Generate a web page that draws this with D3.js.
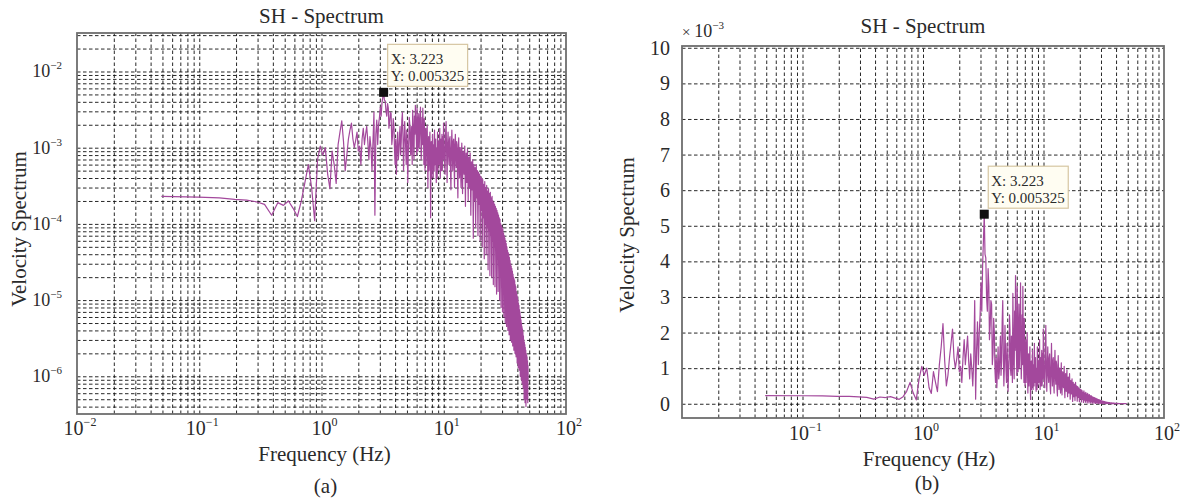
<!DOCTYPE html>
<html><head><meta charset="utf-8">
<script src="https://cdn.jsdelivr.net/npm/d3@7"></script>
<style>
body{margin:0;background:#fff}
svg{display:block}
text{font-family:"Liberation Serif","Times New Roman",serif;fill:#2a2a2a}
</style>
</head><body>
<svg id="c" width="1186" height="499"></svg>
<script>
// ---------- DATA (values in units of 1e-3) ----------
const lowFreq = [0.049,0.098,0.146,0.195,0.244,0.293,0.342,0.391,0.439,0.488,0.537,0.586,0.635,0.684,0.732,0.781,0.830,0.879,0.928,0.977];
const lowVel  = [0.23,0.225,0.22,0.21,0.205,0.195,0.18,0.13,0.19,0.175,0.2,0.16,0.125,0.2,0.35,0.6,0.3,0.11,0.7,1.05];

const midFreq = [1.025,1.074,1.123,1.172,1.221,1.270,1.318,1.367,1.416,1.465,1.514,1.563,1.611,1.660,1.709,1.758,1.807,1.855,1.904,1.953,2.002,2.051,2.100,2.148,2.197,2.246,2.295,2.344,2.393,2.441,2.490,2.539,2.588,2.637,2.686,2.734,2.783,2.832,2.881,2.930,2.979,3.027,3.076,3.125,3.174,3.223,3.271];
const midVel  = [0.8,1.0,0.45,0.29,0.9,0.6,0.34,1.1,1.6,2.25,1.2,0.5,0.8,1.3,1.7,2.1,1.3,1.0,1.25,1.6,0.9,1.05,0.6,1.3,1.8,1.1,1.5,1.9,1.2,0.7,1.4,1.0,0.5,1.2,2.9,0.13,1.5,2.3,1.1,2.0,2.5,3.4,2.6,3.9,4.6,5.325,4.2];

const upFreq = [3.32,3.37,3.42,3.47,3.52,3.56,3.61,3.66,3.71,3.76,3.81,3.86,3.91,3.96,4.00,4.05,4.10,4.15,4.20,4.25,4.30,4.35,4.39,4.44,4.49,4.54,4.59,4.64,4.69,4.74,4.79,4.83,4.88,4.93,4.98,5.03,5.08,5.13,5.18,5.22,5.27,5.32,5.37,5.42,5.47,5.52,5.57,5.62,5.66,5.71,5.76,5.81,5.86,5.91,5.96,6.01,6.05,6.10,6.15,6.20,6.25,6.30,6.35,6.40,6.45,6.49,6.54,6.59,6.64,6.69,6.74,6.79,6.84,6.88,6.93,6.98,7.03,7.08,7.13,7.18,7.23,7.28,7.32,7.37,7.42,7.47,7.52,7.57,7.62,7.67,7.71,7.76,7.81,7.86,7.91,7.96,8.01,8.06,8.11,8.15,8.20,8.25,8.30,8.35,8.40,8.45,8.50,8.54,8.59,8.64,8.69,8.74,8.79,8.84,8.89,8.94,8.98,9.03,9.08,9.13,9.18,9.23,9.28,9.33,9.38,9.42,9.47,9.52,9.57,9.62,9.67,9.72,9.77,9.81,9.86,9.91,9.96];
const upVel  = [4.1,3.0,2.6,3.8,3.3,1.8,2.2,2.9,2.8,1.1,1.4,2.4,2.0,0.9,0.6,1.3,0.45,1.0,1.6,0.7,0.9,1.5,1.9,0.8,1.2,2.3,2.9,1.4,0.5,1.1,2.2,1.6,1.0,0.6,1.7,1.2,0.35,0.9,1.3,2.5,2.1,1.0,0.8,1.9,1.5,0.6,3.1,2.0,1.1,0.7,2.6,1.5,3.6,2.2,1.4,0.8,3.3,1.9,0.9,2.1,2.8,1.0,1.6,2.4,3.4,1.5,0.7,1.2,2.5,1.1,3.3,2.0,1.2,0.6,2.4,1.3,0.5,0.9,1.8,0.6,1.0,1.4,2.0,0.9,0.3,1.0,1.4,0.5,0.8,1.3,1.6,0.7,0.12,0.8,1.2,0.4,0.7,1.1,1.5,0.6,0.4,0.9,1.1,0.5,1.7,0.8,0.6,1.2,1.3,0.5,0.35,0.9,1.0,0.4,1.6,0.7,0.5,1.0,1.2,0.6,0.8,1.4,1.8,0.7,0.4,0.9,1.3,0.5,0.9,1.2,1.5,0.5,0.6,1.4,1.1,0.7,2.1];

const highFreq = [
10.05,10.15,10.25,10.35,10.45,10.55,10.65,10.75,10.85,10.95,11.05,11.15,11.25,11.35,11.45,11.55,11.65,11.75,11.85,11.95,
12.05,12.15,12.25,12.35,12.45,12.55,12.65,12.75,12.85,12.95,13.05,13.15,13.25,13.35,13.45,13.55,13.65,13.75,13.85,13.95,
14.05,14.15,14.25,14.35,14.45,14.55,14.65,14.75,14.85,14.95,15.05,15.15,15.25,15.35,15.45,15.55,15.65,15.75,15.85,15.95,
16.05,16.25,16.45,16.65,16.85,17.05,17.25,17.45,17.65,17.85,
18.05,18.25,18.45,18.65,18.85,19.05,19.25,19.45,19.65,19.85,
20.05,20.25,20.45,20.65,20.85,21.05,21.25,21.45,21.65,21.85,
22.05,22.25,22.45,22.65,22.85,23.05,23.25,23.45,23.65,23.85,
24.05,24.25,24.45,24.65,24.85,25.05,25.25,25.45,25.65,25.85,
26.05,26.25,26.45,26.65,26.85,27.05,27.25,27.45,27.65,27.85,
28.05,28.25,28.45,28.65,28.85,29.05,29.25,29.45,29.65,29.85,
30.05,30.25,30.45,30.65,30.85,31.05,31.25,31.45,31.65,31.85,
32.05,32.25,32.45,32.65,32.85,33.05,33.25,33.45,33.65,33.85,
34.05,34.25,34.45,34.65,34.85,35.05,35.25,35.45,35.65,35.85,
36.05,36.25,36.45,36.65,36.85,37.05,37.25,37.45,37.65,37.85,
38.05,38.25,38.45,38.65,38.85,39.05,39.25,39.45,39.65,39.85,
40.05,40.25,40.45,40.65,40.85,41.05,41.25,41.45,41.65,41.85,
42.05,42.25,42.45,42.65,42.85,43.05,43.25,43.45,43.65,43.85,
44.05,44.25,44.45,44.65,44.85,45.05,45.25,45.45,45.65,45.85,
46.05,46.25,46.45,46.65,46.85,47.05,47.25,47.45,47.65,47.85,
48.05,48.25,48.45,48.65,48.85,49.05];
const highVel = [
1.2,0.7,0.45,1.5,2.2,0.9,0.35,1.1,1.6,0.8,0.6,1.3,1.4,0.5,0.28,1.0,1.7,0.9,0.5,1.2,
1.3,0.6,0.3,1.1,1.5,0.8,0.55,1.2,1.1,0.4,0.22,0.9,1.35,0.7,0.4,1.0,1.0,0.5,0.3,0.8,
1.15,0.5,0.25,0.8,0.9,0.6,0.45,0.7,1.05,0.4,0.17,0.6,0.85,0.5,0.35,0.75,0.95,0.45,0.2,0.6,
0.75,0.3,0.85,0.13,0.65,0.28,0.7,0.065,0.6,0.2,
0.55,0.09,0.6,0.22,0.5,0.07,0.48,0.18,0.45,0.06,
0.42,0.15,0.4,0.05,0.38,0.12,0.33,0.035,0.36,0.1,
0.3,0.04,0.32,0.09,0.27,0.025,0.29,0.08,0.25,0.021,
0.26,0.07,0.22,0.02,0.23,0.06,0.2,0.016,0.19,0.05,
0.18,0.015,0.17,0.045,0.16,0.012,0.15,0.035,0.14,0.013,
0.13,0.03,0.12,0.01,0.115,0.025,0.1,0.008,0.095,0.02,
0.09,0.007,0.085,0.018,0.075,0.006,0.07,0.015,0.065,0.005,
0.06,0.013,0.055,0.0045,0.05,0.011,0.045,0.004,0.042,0.009,
0.04,0.0035,0.036,0.008,0.033,0.003,0.03,0.007,0.028,0.0028,
0.026,0.006,0.024,0.0025,0.022,0.005,0.02,0.0022,0.019,0.0045,
0.018,0.002,0.016,0.004,0.015,0.0018,0.013,0.0035,0.012,0.0015,
0.011,0.003,0.01,0.0013,0.009,0.0025,0.0085,0.0012,0.0075,0.002,
0.007,0.001,0.0062,0.0018,0.0055,0.0009,0.005,0.0015,0.0045,0.0008,
0.0042,0.0012,0.0038,0.0007,0.0034,0.0011,0.003,0.0005,0.0028,0.0009,
0.0026,0.00045,0.0024,0.0008,0.0022,0.0004,0.002,0.0007,0.0019,0.0005,
0.0018,0.0006,0.0016,0.00045,0.0014,0.0009];

const xTickExps = [-2,-1,0,1,2];
const logYTickExps = [-6,-5,-4,-3,-2];
const linYTicks = [0,1,2,3,4,5,6,7,8,9,10];
const peakPoint = {f:3.223, v:0.005325};
const tipLines = ["X: 3.223","Y: 0.005325"];
const titleText = "SH - Spectrum";
const xLabelText = "Frequency (Hz)";
const yLabelText = "Velocity Spectrum";
const captions = ["(a)","(b)"];

// ---------- BUILD ----------
const freqHz = [...lowFreq,...midFreq,...upFreq,...highFreq];
const velRaw = [...lowVel,...midVel,...upVel,...highVel];
const n = Math.min(freqHz.length, velRaw.length);
const series = d3.range(n).map(i => ({f:freqHz[i], v:velRaw[i]*1e-3}));

const svg = d3.select("#c");
svg.append("rect").attr("width",1186).attr("height",499).attr("fill","#ffffff");

const LINE = "#a3489c";
const GRID = "#111";

function supText(sel, base, exp, baseSize, supSize, dy){
  sel.text(null);
  sel.append("tspan").attr("font-size",baseSize).text(base);
  sel.append("tspan").attr("font-size",supSize).attr("dy",dy).text(exp);
}

function panel(cfg){
  const g = svg.append("g");
  const x = d3.scaleLog().domain([0.01,100]).range([cfg.x0,cfg.x1]);
  const y = (cfg.type==="log" ? d3.scaleLog() : d3.scaleLinear()).domain(cfg.yDomain).range([cfg.y1,cfg.y0]);
  const w = cfg.x1-cfg.x0, h = cfg.y1-cfg.y0;

  // vertical grid (major + minor)
  const xGridVals = [];
  for (let e=-2;e<=1;e++) for (let k=1;k<=9;k++) xGridVals.push(k*Math.pow(10,e));
  const gx = g.append("g").attr("transform",`translate(0,${cfg.y1})`)
    .call(d3.axisBottom(x).tickValues(xGridVals.filter(v=>v>0.0101)).tickSize(-h).tickFormat(""));
  gx.select(".domain").remove();
  gx.selectAll("line").attr("stroke",GRID).attr("stroke-width",1).attr("stroke-dasharray","3.5,2.5").attr("opacity",0.9);

  // horizontal grid
  let yGridVals = [];
  if (cfg.type==="log"){
    for (let e=-7;e<=-2;e++) for (let k=1;k<=9;k++){ const v=k*Math.pow(10,e); if (v>cfg.yDomain[0]*1.02 && v<cfg.yDomain[1]*0.98) yGridVals.push(v); }
  } else {
    yGridVals = linYTicks.map(t=>t*1e-3);
  }
  const gy = g.append("g").attr("transform",`translate(${cfg.x0},0)`)
    .call(d3.axisLeft(y).tickValues(yGridVals).tickSize(-w).tickFormat(""));
  gy.select(".domain").remove();
  gy.selectAll("line").attr("stroke",GRID).attr("stroke-width",1).attr("stroke-dasharray","3.5,2.5").attr("opacity",0.9);

  // clip + data line
  const cid = "clip"+cfg.id;
  svg.append("clipPath").attr("id",cid).append("rect").attr("x",cfg.x0).attr("y",cfg.y0).attr("width",w).attr("height",h);
  g.append("path").datum(series).attr("clip-path",`url(#${cid})`)
    .attr("fill","none").attr("stroke",LINE).attr("stroke-width",1.2).attr("stroke-linejoin","round")
    .attr("d", d3.line().x(d=>x(d.f)).y(d=>y(d.v)));

  // box
  g.append("rect").attr("x",cfg.x0).attr("y",cfg.y0).attr("width",w).attr("height",h)
    .attr("fill","none").attr("stroke","#6e6e6e").attr("stroke-width",1.8);

  // x tick labels
  g.selectAll("text.xt").data(xTickExps.filter(e=>cfg.xLabelExps.includes(e))).join("text")
    .attr("class","xt").attr("x",d=>x(Math.pow(10,d))+3).attr("y",cfg.xTickBase)
    .attr("text-anchor","middle")
    .each(function(d){ supText(d3.select(this),"10",(d<0?"−":"")+Math.abs(d),20,12,-9); });

  // y tick labels
  if (cfg.type==="log"){
    g.selectAll("text.yt").data(logYTickExps).join("text")
      .attr("class","yt").attr("x",cfg.x0-15).attr("y",d=>y(Math.pow(10,d))+6)
      .attr("text-anchor","end")
      .each(function(d){ supText(d3.select(this),"10","−"+Math.abs(d),18,11,-8); });
  } else {
    g.selectAll("text.yt").data(linYTicks).join("text")
      .attr("class","yt").attr("x",cfg.x0-12).attr("y",d=>y(d*1e-3)+7)
      .attr("text-anchor","end").attr("font-size",20).text(d=>d);
    const m = g.append("text").attr("x",cfg.x0).attr("y",cfg.y0-9);
    m.append("tspan").attr("font-size",15).text("× ");
    m.append("tspan").attr("font-size",18).text("10");
    m.append("tspan").attr("font-size",11).attr("dy",-8).text("−3");
  }

  // title, labels, caption
  const cx = (cfg.x0+cfg.x1)/2;
  g.append("text").attr("x",cx).attr("y",cfg.titleY).attr("text-anchor","middle").attr("font-size",21).text(titleText);
  g.append("text").attr("x",cx+cfg.xLabelDx).attr("y",cfg.xLabelY).attr("text-anchor","middle").attr("font-size",21).text(xLabelText);
  g.append("text").attr("x",cx+4).attr("y",cfg.capY).attr("text-anchor","middle").attr("font-size",21).text(cfg.caption);
  g.append("text").attr("transform",`translate(${cfg.yLabelX},${cfg.yLabelY}) rotate(-90)`)
    .attr("text-anchor","middle").attr("font-size",21).text(yLabelText);

  // data tip
  const mx = x(peakPoint.f), my = y(peakPoint.v);
  const tip = g.append("g");
  tip.append("rect").attr("x",mx+4).attr("y",my-48).attr("width",80).attr("height",42)
    .attr("fill","#fffdf2").attr("stroke","#d6c6a2").attr("stroke-width",1.2);
  tip.selectAll("text").data(tipLines).join("text")
    .attr("x",mx+7).attr("y",(d,i)=>my-28+i*17).attr("font-size",15).attr("fill","#333").text(d=>d);
  tip.append("rect").attr("x",mx-4.5).attr("y",my-4.5).attr("width",9).attr("height",9).attr("fill","#111");
}

panel({id:"a", type:"log", x0:77, x1:566, y0:33, y1:414, yDomain:[3.2e-7,3.2e-2],
  xLabelExps:[-2,-1,0,1,2], xTickBase:435, titleY:23, xLabelY:461, xLabelDx:3, capY:493,
  caption:captions[0], yLabelX:26, yLabelY:229});
panel({id:"b", type:"linear", x0:682, x1:1164, y0:46, y1:418, yDomain:[-0.0004,0.01005],
  xLabelExps:[-1,0,1,2], xTickBase:440, titleY:33, xLabelY:466, xLabelDx:6, capY:490,
  caption:captions[1], yLabelX:634, yLabelY:235});
</script>
</body></html>
